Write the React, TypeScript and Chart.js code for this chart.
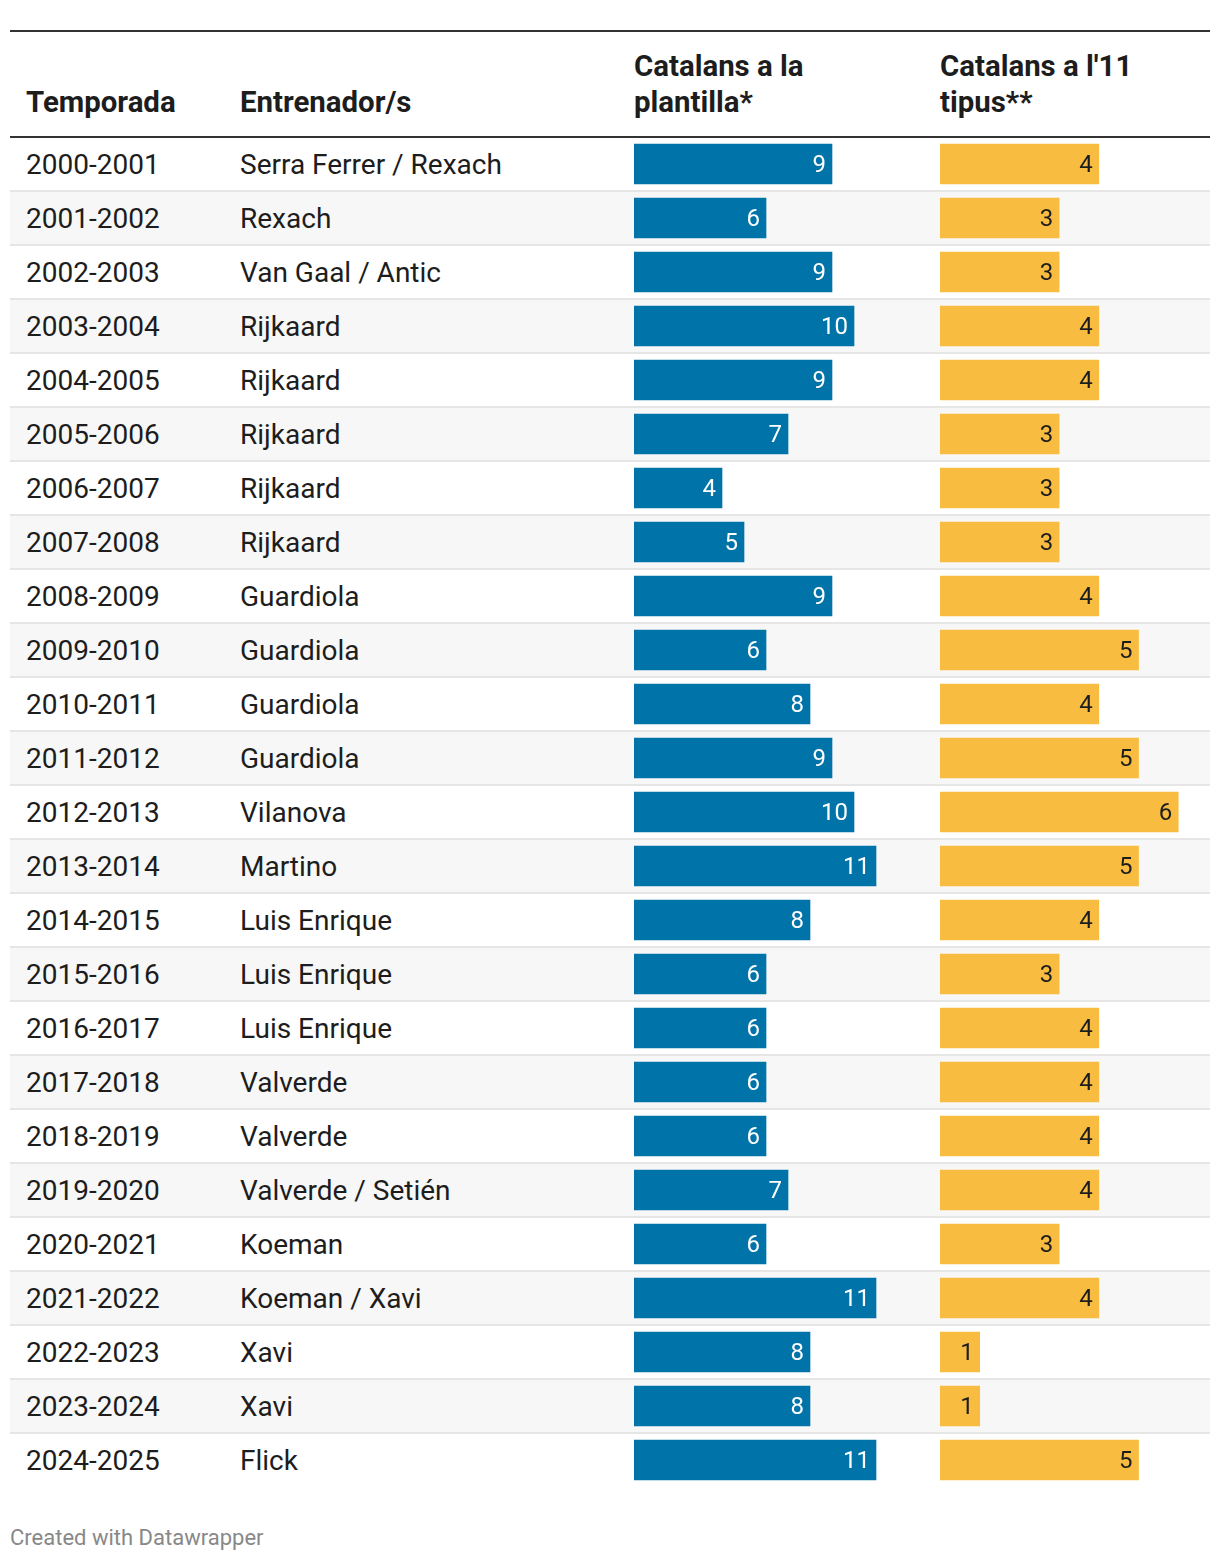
import React, { useEffect, useRef } from "react";
import { Chart, registerables } from "chart.js";

Chart.register(...registerables);

const seasons = [
  "2000-2001", "2001-2002", "2002-2003", "2003-2004", "2004-2005",
  "2005-2006", "2006-2007", "2007-2008", "2008-2009", "2009-2010",
  "2010-2011", "2011-2012", "2012-2013", "2013-2014", "2014-2015",
  "2015-2016", "2016-2017", "2017-2018", "2018-2019", "2019-2020",
  "2020-2021", "2021-2022", "2022-2023", "2023-2024", "2024-2025",
];

const coaches = [
  "Serra Ferrer / Rexach", "Rexach", "Van Gaal / Antic", "Rijkaard", "Rijkaard",
  "Rijkaard", "Rijkaard", "Rijkaard", "Guardiola", "Guardiola",
  "Guardiola", "Guardiola", "Vilanova", "Martino", "Luis Enrique",
  "Luis Enrique", "Luis Enrique", "Valverde", "Valverde", "Valverde / Setién",
  "Koeman", "Koeman / Xavi", "Xavi", "Xavi", "Flick",
];

const squadCatalans = [9, 6, 9, 10, 9, 7, 4, 5, 9, 6, 8, 9, 10, 11, 8, 6, 6, 6, 6, 7, 6, 11, 8, 8, 11];
const lineupCatalans = [4, 3, 3, 4, 4, 3, 3, 3, 4, 5, 4, 5, 6, 5, 4, 3, 4, 4, 4, 4, 3, 4, 1, 1, 5];

const headerSeason = "Temporada";
const headerCoach = "Entrenador/s";
const headerSquad = ["Catalans a la", "plantilla*"];
const headerLineup = ["Catalans a l'11", "tipus**"];
const footerText = "Created with Datawrapper";

const ROW_H = 54;
const TABLE_TOP = 137;
const FONT = "Roboto, 'Noto Sans', sans-serif";
const TEXT = "#1d1d1d";

type BarProps = {
  values: number[];
  color: string;
  labelColor: string;
  max: number;
  left: number;
  width: number;
};

function BarColumn({ values, color, labelColor, max, left, width }: BarProps) {
  const ref = useRef<HTMLCanvasElement | null>(null);
  const height = values.length * ROW_H;
  useEffect(() => {
    if (!ref.current) return;
    const labelPlugin = {
      id: "valueLabels",
      afterDatasetsDraw(chart: any) {
        const ctx = chart.ctx;
        const meta = chart.getDatasetMeta(0);
        ctx.save();
        ctx.font = "24px Roboto";
        ctx.fillStyle = labelColor;
        ctx.textAlign = "right";
        ctx.textBaseline = "alphabetic";
        meta.data.forEach((bar: any, i: number) => {
          ctx.fillText(String(values[i]), bar.x - 6, bar.y + 8);
        });
        ctx.restore();
      },
    };
    const chart = new Chart(ref.current, {
      type: "bar",
      data: {
        labels: seasons,
        datasets: [
          {
            data: values,
            backgroundColor: color,
            borderWidth: 0,
            barThickness: 40,
          },
        ],
      },
      options: {
        indexAxis: "y",
        responsive: false,
        animation: false,
        devicePixelRatio: 1,
        layout: { padding: 0 },
        plugins: { legend: { display: false }, tooltip: { enabled: false } },
        scales: {
          x: { display: false, min: 0, max, grid: { display: false } },
          y: { display: false, grid: { display: false } },
        },
      },
      plugins: [labelPlugin],
    });
    return () => chart.destroy();
  }, []);
  return (
    <canvas
      ref={ref}
      width={width}
      height={height}
      style={{ position: "absolute", left, top: TABLE_TOP, width, height, zIndex: 2 }}
    />
  );
}

export default function App() {
  const rows = seasons.map((s, i) => {
    const top = TABLE_TOP + i * ROW_H;
    return (
      <React.Fragment key={s}>
        {i % 2 === 1 && (
          <div style={{ position: "absolute", left: 10, top: top + 1, width: 1200, height: 52, background: "#f7f7f7" }} />
        )}
        {i < seasons.length - 1 && (
          <div style={{ position: "absolute", left: 10, top: top + 53, width: 1200, height: 2, background: "#e6e6e6" }} />
        )}
        <div style={{ position: "absolute", left: 26, top: top + 1, height: ROW_H, lineHeight: ROW_H + "px", fontSize: 28, color: TEXT, whiteSpace: "nowrap", zIndex: 3 }}>
          {s}
        </div>
        <div style={{ position: "absolute", left: 240, top: top + 1, height: ROW_H, lineHeight: ROW_H + "px", fontSize: 28, color: TEXT, whiteSpace: "nowrap", zIndex: 3 }}>
          {coaches[i]}
        </div>
      </React.Fragment>
    );
  });

  const hdr: React.CSSProperties = {
    position: "absolute",
    fontSize: 29.4,
    fontWeight: 700,
    lineHeight: "36px",
    color: TEXT,
    whiteSpace: "nowrap",
  };

  return (
    <div style={{ position: "absolute", left: 0, top: 0, width: 1220, height: 1562, fontFamily: FONT, background: "#fff" }}>
      <div style={{ position: "absolute", left: 10, top: 30, width: 1200, height: 2, background: "#333" }} />
      <div style={{ ...hdr, left: 26, top: 84 }}>{headerSeason}</div>
      <div style={{ ...hdr, left: 240, top: 84 }}>{headerCoach}</div>
      <div style={{ ...hdr, left: 634, top: 48 }}>
        {headerSquad[0]}
        <br />
        {headerSquad[1]}
      </div>
      <div style={{ ...hdr, left: 940, top: 48 }}>
        {headerLineup[0]}
        <br />
        {headerLineup[1]}
      </div>
      <div style={{ position: "absolute", left: 10, top: 136, width: 1200, height: 2, background: "#333" }} />
      {rows}
      <BarColumn values={squadCatalans} color="#0074a8" labelColor="#ffffff" max={13} left={634} width={286} />
      <BarColumn values={lineupCatalans} color="#f8bd40" labelColor="#1d1d1d" max={6.8} left={940} width={270} />
      <div style={{ position: "absolute", left: 10, top: 1526, fontSize: 22, lineHeight: "24px", color: "#888", whiteSpace: "nowrap" }}>
        {footerText}
      </div>
    </div>
  );
}
